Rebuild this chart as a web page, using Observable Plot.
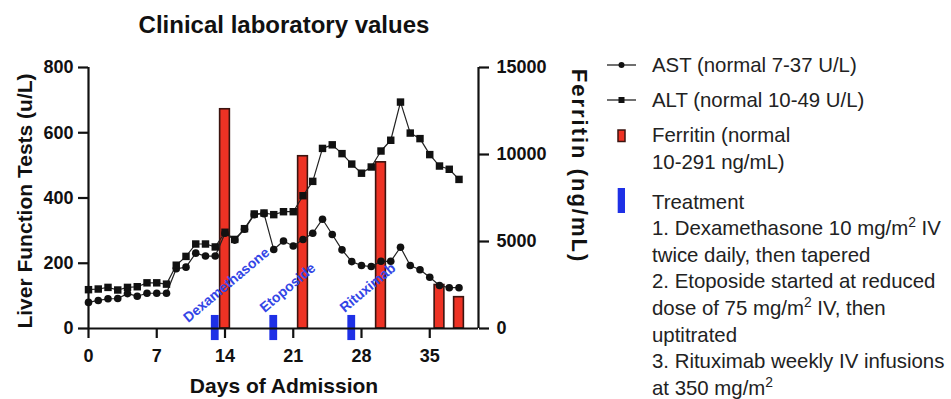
<!DOCTYPE html>
<html><head><meta charset="utf-8">
<script src="https://cdn.jsdelivr.net/npm/d3@7"></script>
<script src="https://cdn.jsdelivr.net/npm/@observablehq/plot@0.6"></script>
<style>
body{margin:0;background:#fff;font-family:"Liberation Sans",Arial,Helvetica,sans-serif;}
#wrap{position:relative;width:951px;height:399px;overflow:hidden;background:#fff;}
.abs{position:absolute;white-space:nowrap;color:#111;}
.title{left:284px;top:25px;transform:translate(-50%,-50%);font-size:24px;font-weight:bold;line-height:1;}
.ylab{left:24px;top:201px;transform:translate(-50%,-50%) rotate(-90deg);font-size:21px;font-weight:bold;line-height:1;}
.rlab{left:579px;top:166px;transform:translate(-50%,-50%) rotate(90deg);font-size:22px;letter-spacing:2px;font-weight:bold;line-height:1;}
.xlab{left:284px;top:385px;transform:translate(-50%,-50%);font-size:21px;font-weight:bold;line-height:1;}
.leg{font-size:20.4px;color:#222;}
sup{font-size:0.68em;line-height:0;vertical-align:0.55em;}
</style></head><body>
<div id="wrap">
  <div id="chart" class="abs" style="left:0;top:0"></div>
  <div class="abs title">Clinical laboratory values</div>
  <div class="abs ylab">Liver Function Tests (u/L)</div>
  <div class="abs rlab">Ferritin (ng/mL)</div>
  <div class="abs xlab">Days of Admission</div>
  <svg class="abs" style="left:600px;top:40px" width="60" height="190">
    <line x1="7" x2="36" y1="25" y2="25" stroke="#222" stroke-width="1.3"/>
    <circle cx="21.5" cy="25" r="3" fill="#111"/>
    <line x1="7" x2="36" y1="60" y2="60" stroke="#222" stroke-width="1.3"/>
    <rect x="18.5" y="57" width="6" height="6" fill="#111"/>
    <rect x="18" y="90" width="7" height="11.5" fill="#ee3224" stroke="#3a1410" stroke-width="1.5"/>
    <rect x="17.7" y="148" width="7.3" height="25" fill="#1e30e6"/>
  </svg>
  <div class="abs leg" style="left:652px;top:52px;line-height:26px">AST (normal 7-37 U/L)</div>
  <div class="abs leg" style="left:652px;top:87px;line-height:26px">ALT (normal 10-49 U/L)</div>
  <div class="abs leg" style="left:652px;top:122px;line-height:26.6px">Ferritin (normal<br>10-291 ng/mL)</div>
  <div class="abs leg" style="left:652px;top:188.7px;line-height:26.6px">Treatment<br>1. Dexamethasone 10 mg/m<sup>2</sup> IV<br>twice daily, then tapered<br>2. Etoposide started at reduced<br>dose of 75 mg/m<sup>2</sup> IV, then<br>uptitrated<br>3. Rituximab weekly IV infusions<br>at 350 mg/m<sup>2</sup></div>
</div>
<script>
// Days of admission
const days = [0,1,2,3,4,5,6,7,8,9,10,11,12,13,14,15,16,17,18,19,20,21,22,23,24,25,26,27,28,29,30,31,32,33,34,35,36,37,38];
// AST (U/L)
const ast = [80,86,91,92,107,99,108,108,108,183,188,231,222,222,292,271,304,349,352,242,268,253,273,292,335,288,241,205,193,190,206,206,249,193,180,157,132,125,125];
// ALT (U/L)
const alt = [119,121,126,118,126,128,140,140,136,194,221,259,259,250,295,273,306,351,354,349,358,358,407,451,552,563,536,504,476,495,544,577,694,599,582,533,498,488,457];
// Ferritin (ng/mL)
const ferritinDays = [14,22,30,36,38];
const ferritin = [12600,9900,9550,2500,1800];
// Treatments
const treatmentDays = [13,19,27];
const treatmentNames = ["Dexamethasone","Etoposide","Rituximab"];
// Ticks
const xTicks = [0,7,14,21,28,35];
const leftTicks = [0,200,400,600,800];
const rightTicks = [0,5000,10000,15000];

const k = 800/15000; // ferritin -> left axis units
const lft = days.map((d,i)=>({day:d, ast:ast[i], alt:alt[i]}));
const fer = ferritinDays.map((d,i)=>({day:d, value:ferritin[i]}));
const trt = treatmentDays.map((d,i)=>({day:d, name:treatmentNames[i]}));
const labelOffsets = [[-30,-9],[-12,-19],[-10,-19]];
const font = "Liberation Sans, Arial, Helvetica, sans-serif";
const axisStyle = {fontSize:18, fontWeight:"bold", strokeWidth:2.2, fill:"#111", stroke:"#111"};

const plot = Plot.plot({
  width: 600, height: 399,
  marginTop: 67, marginBottom: 71, marginLeft: 88, marginRight: 122,
  style: {fontFamily: font, background: "transparent", color: "#111", overflow: "visible"},
  x: {domain: [0, 40]},
  y: {domain: [0, 800]},
  marks: [
    Plot.rect(fer, {x1: d=>d.day-0.5, x2: d=>d.day+0.5, y1: 0, y2: d=>d.value*k, fill: "#ee3224", stroke: "#3a1410", strokeWidth: 1.6}),
    Plot.rect(trt, {x1: d=>d.day-0.4, x2: d=>d.day+0.4, y1: -37, y2: 40, fill: "#1e30e6"}),
    Plot.line(lft, {x: "day", y: "ast", stroke: "#222", strokeWidth: 1.2}),
    Plot.line(lft, {x: "day", y: "alt", stroke: "#222", strokeWidth: 1.2}),
    Plot.dot(lft, {x: "day", y: "ast", r: 3.8, fill: "#111", stroke: "none"}),
    Plot.dot(lft, {x: "day", y: "alt", r: 4.2, symbol: "square", fill: "#111", stroke: "none"}),
    ...trt.map((t,i)=>Plot.text([t], {x: "day", y: 0, text: "name", rotate: -40, textAnchor: "start",
      dx: labelOffsets[i][0], dy: labelOffsets[i][1], fill: "#3346e6", fontSize: 14, fontWeight: "bold"})),
    Plot.ruleY([0], {stroke: "#111", strokeWidth: 2.2}),
    Plot.ruleX([0], {stroke: "#111", strokeWidth: 2.2}),
    Plot.ruleX([40], {stroke: "#111", strokeWidth: 2.2}),
    Plot.axisX({ticks: xTicks, tickSize: 10, tickPadding: 11, label: null, ...axisStyle}),
    Plot.axisY({ticks: leftTicks, tickSize: 10, tickPadding: 5, label: null, ...axisStyle}),
    Plot.axisY({anchor: "right", ticks: rightTicks.map(v=>v*k), tickFormat: v=>String(Math.round(v/k)),
      tickSize: 10, tickPadding: 8, label: null, ...axisStyle})
  ]
});
document.getElementById("chart").appendChild(plot);
</script>
</body></html>
